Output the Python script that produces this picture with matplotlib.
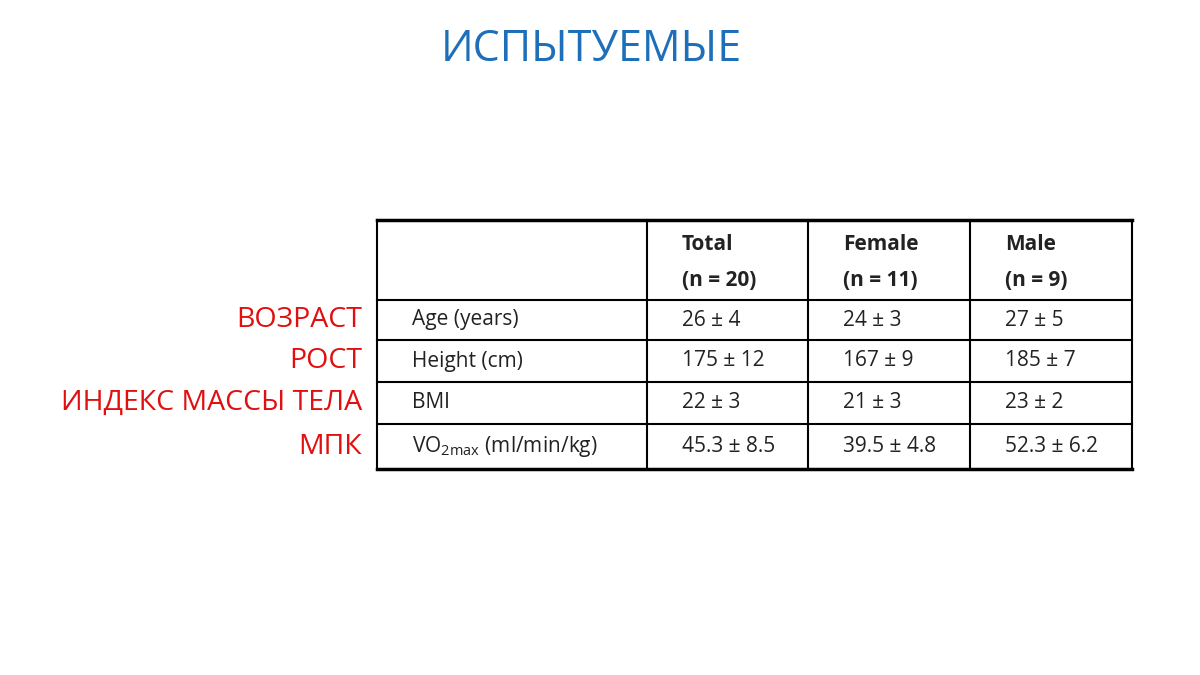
import matplotlib
matplotlib.use("Agg")
import matplotlib.pyplot as plt

title = "ИСПЫТУЕМЫЕ"
ru_labels = ["ВОЗРАСТ", "РОСТ", "ИНДЕКС МАССЫ ТЕЛА", "МПК"]
en_labels = ["Age (years)", "Height (cm)", "BMI", r"VO$_{\mathregular{2max}}$ (ml/min/kg)"]
col_heads = ["Total", "Female", "Male"]
col_n = ["(n = 20)", "(n = 11)", "(n = 9)"]
total = ["26 ± 4", "175 ± 12", "22 ± 3", "45.3 ± 8.5"]
female = ["24 ± 3", "167 ± 9", "21 ± 3", "39.5 ± 4.8"]
male = ["27 ± 5", "185 ± 7", "23 ± 2", "52.3 ± 6.2"]

fig = plt.figure(figsize=(12, 6.75), dpi=100)
ax = fig.add_axes([0, 0, 1, 1])
ax.set_xlim(0, 1200); ax.set_ylim(675, 0); ax.axis("off")
fam = ["Open Sans", "DejaVu Sans"]

ax.text(591, 50, title, ha="center", va="center", fontsize=31, color="#1C6FB8", family=fam)

L, R = 377, 1132
vx = [L, 647, 808, 970, R]
hy = [220, 300, 340, 382, 424, 469]
for i, y in enumerate(hy):
    lw = 2.5 if i in (0, len(hy) - 1) else 1.5
    ax.plot([L, R], [y, y], color="black", lw=lw)
for x in vx:
    ax.plot([x, x], [hy[0], hy[-1]], color="black", lw=1.5)

for j, (h, n) in enumerate(zip(col_heads, col_n)):
    x = vx[j + 1] + 35
    ax.text(x, 245, h, ha="left", va="center", fontsize=15, fontweight="bold", color="#222", family=fam)
    ax.text(x, 280, n, ha="left", va="center", fontsize=15, fontweight="bold", color="#222", family=fam)

cols = [total, female, male]
for i in range(4):
    yc = (hy[i + 1] + hy[i + 2]) / 2
    ax.text(362, yc, ru_labels[i], ha="right", va="center", fontsize=20.5, color="#E01010", family=fam)
    ax.text(412, yc, en_labels[i], ha="left", va="center", fontsize=15, color="#222", family=fam)
    for j, col in enumerate(cols):
        ax.text(vx[j + 1] + 35, yc, col[i], ha="left", va="center", fontsize=15, color="#222", family=fam)

fig.savefig("out.png", dpi=100, facecolor="white")
